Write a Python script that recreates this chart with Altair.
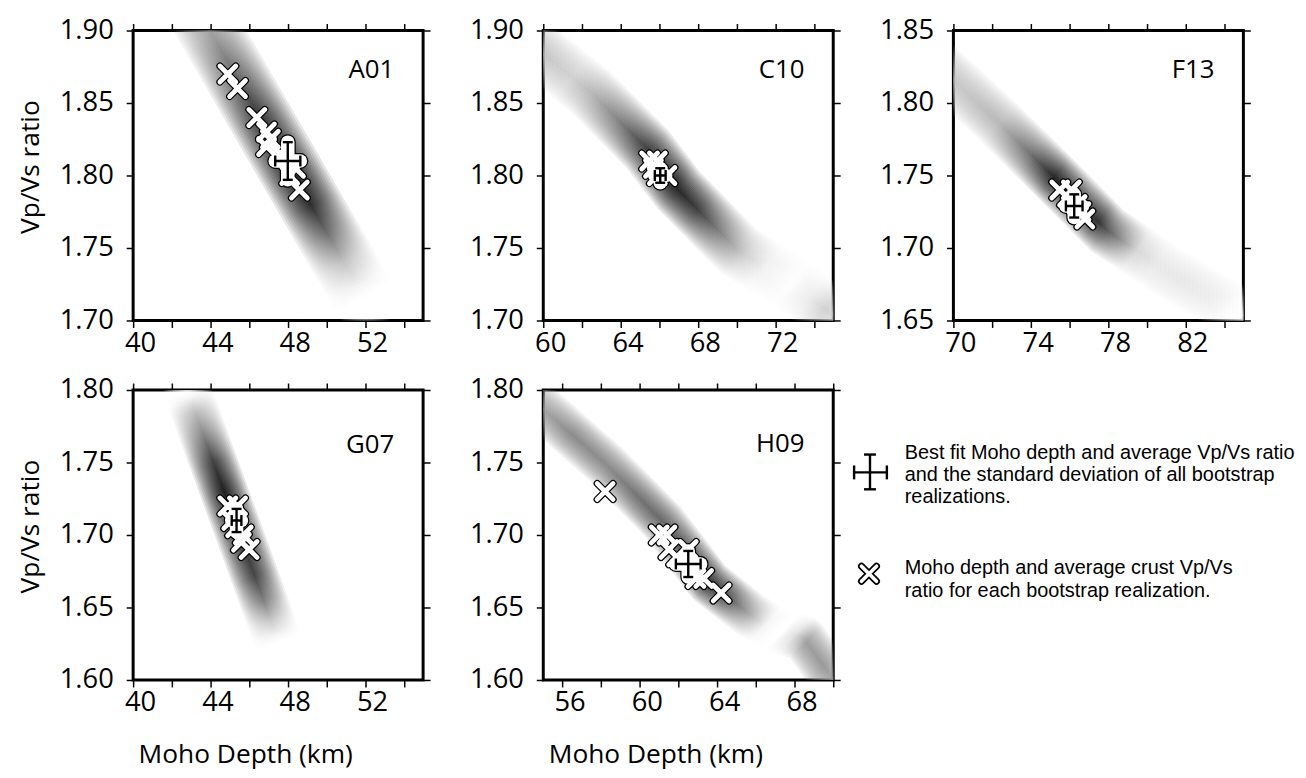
import altair as alt
import numpy as np
import pandas as pd

# ------------------------------------------------------------------
# DATA
# ------------------------------------------------------------------
# A01
A01_x_domain = [40, 55]
A01_y_domain = [1.70, 1.90]
A01_x_ticks = [40, 42, 44, 46, 48, 50, 52, 54]
A01_x_labels = [40, 44, 48, 52]
A01_y_ticks = [1.70, 1.75, 1.80, 1.85, 1.90]
A01_ridge_depth = [43.1, 52.0]
A01_ridge_vpvs = [1.92, 1.715]
A01_shade_depth = [43.1, 44.0, 45.3, 46.6, 48.3, 49.2, 50.0, 50.9, 51.6, 52.0]
A01_shade_level = [0.30, 0.36, 0.58, 0.78, 0.88, 0.82, 0.58, 0.24, 0.06, 0.0]
A01_boot_depth = [44.9, 45.4, 46.4, 46.9, 47.1, 46.9, 47.6, 48.1, 48.4, 48.6]
A01_boot_vpvs = [1.87, 1.86, 1.84, 1.83, 1.825, 1.82, 1.815, 1.80, 1.805, 1.79]
A01_best = [48.0, 1.81]
A01_err = [0.65, 0.013]

# C10
C10_x_domain = [60, 75]
C10_y_domain = [1.70, 1.90]
C10_x_ticks = [60, 62, 64, 66, 68, 70, 72, 74]
C10_x_labels = [60, 64, 68, 72]
C10_y_ticks = [1.70, 1.75, 1.80, 1.85, 1.90]
C10_ridge_depth = [58.5, 62.5, 65.4, 67.0, 70.1, 72.5, 74.6, 76.0]
C10_ridge_vpvs = [1.90, 1.857, 1.818, 1.790, 1.748, 1.728, 1.708, 1.695]
C10_shade_depth = [58.5, 60.0, 61.5, 62.5, 64.0, 65.4, 66.7, 68.0, 69.3, 70.5, 71.5, 72.8, 73.8, 74.6, 76.0]
C10_shade_level = [0.22, 0.22, 0.18, 0.28, 0.50, 0.75, 0.88, 0.75, 0.45, 0.18, 0.06, 0.02, 0.08, 0.18, 0.10]
C10_boot_depth = [65.5, 65.9, 65.9, 66.4, 65.7]
C10_boot_vpvs = [1.81, 1.81, 1.80, 1.80, 1.805]
C10_best = [66.05, 1.80]
C10_err = [0.28, 0.005]

# F13
F13_x_domain = [70, 85]
F13_y_domain = [1.65, 1.85]
F13_x_ticks = [70, 72, 74, 76, 78, 80, 82, 84]
F13_x_labels = [70, 74, 78, 82]
F13_y_ticks = [1.65, 1.70, 1.75, 1.80, 1.85]
F13_ridge_depth = [69.0, 72.4, 75.2, 77.96, 81.04, 83.1, 85.5]
F13_ridge_vpvs = [1.828, 1.786, 1.749, 1.712, 1.684, 1.668, 1.65]
F13_shade_depth = [69.0, 70.5, 72.4, 74.0, 75.2, 76.5, 77.5, 78.5, 79.5, 80.5, 82.0, 83.5, 84.5, 85.5]
F13_shade_level = [0.22, 0.22, 0.28, 0.55, 0.85, 0.75, 0.80, 0.48, 0.16, 0.09, 0.09, 0.07, 0.02, 0.0]
F13_boot_depth = [75.5, 76.1, 75.9, 76.4, 76.6, 76.8]
F13_boot_vpvs = [1.74, 1.74, 1.735, 1.73, 1.725, 1.72]
F13_best = [76.25, 1.729]
F13_err = [0.43, 0.008]

# G07
G07_x_domain = [40, 55]
G07_y_domain = [1.60, 1.80]
G07_x_ticks = [40, 42, 44, 46, 48, 50, 52, 54]
G07_x_labels = [40, 44, 48, 52]
G07_y_ticks = [1.60, 1.65, 1.70, 1.75, 1.80]
G07_ridge_depth = [42.8, 47.56]
G07_ridge_vpvs = [1.80, 1.625]
G07_shade_depth = [42.8, 42.95, 43.2, 43.6, 44.15, 44.7, 45.5, 46.3, 46.75, 47.15, 47.4, 47.56]
G07_shade_level = [0.0, 0.05, 0.25, 0.45, 0.75, 0.90, 0.80, 0.72, 0.50, 0.20, 0.05, 0.0]
G07_boot_depth = [44.9, 45.4, 45.1, 45.3, 45.7, 45.6, 46.0]
G07_boot_vpvs = [1.72, 1.72, 1.71, 1.705, 1.70, 1.695, 1.69]
G07_best = [45.35, 1.71]
G07_err = [0.25, 0.008]

# H09
H09_x_domain = [55, 70]
H09_y_domain = [1.60, 1.80]
H09_x_ticks = [56, 58, 60, 62, 64, 66, 68, 70]
H09_x_labels = [56, 60, 64, 68]
H09_y_ticks = [1.60, 1.65, 1.70, 1.75, 1.80]
H09_ridge_depth = [54.3, 58.3, 61.2, 63.6, 65.7, 66.8, 68.45, 70.3]
H09_ridge_vpvs = [1.795, 1.748, 1.709, 1.667, 1.645, 1.636, 1.629, 1.595]
H09_shade_depth = [54.3, 55.0, 56.5, 58.3, 60.0, 61.5, 62.5, 63.6, 64.6, 65.7, 66.5, 67.3, 68.0, 68.6, 69.5, 70.3]
H09_shade_level = [0.30, 0.35, 0.45, 0.45, 0.55, 0.60, 0.70, 0.80, 0.65, 0.32, 0.05, 0.0, 0.12, 0.38, 0.40, 0.30]
H09_boot_depth = [58.2, 61.0, 61.4, 61.5, 61.9, 62.5, 62.8, 62.9, 63.3, 64.2]
H09_boot_vpvs = [1.73, 1.70, 1.70, 1.69, 1.685, 1.69, 1.675, 1.67, 1.67, 1.66]
H09_best = [62.5, 1.68]
H09_err = [0.64, 0.009]

legend_best_lines = ["Best fit Moho depth and average Vp/Vs ratio",
                     "and the standard deviation of all bootstrap",
                     "realizations."]
legend_boot_lines = ["Moho depth and average crust Vp/Vs",
                     "ratio for each bootstrap realization."]

# ------------------------------------------------------------------
# STYLE
# ------------------------------------------------------------------
PW, PH = 292, 292
N_LAYERS = 20
ALPHA = 0.1
FRACS = [((k + 1) / N_LAYERS) ** 1.5 for k in range(N_LAYERS)]
SAT = 1 - (1 - ALPHA) ** N_LAYERS
XPATH = "M-1,-1L1,1M-1,1L1,-1"
TICK_FONT = "Open Sans"
LEG_FONT = "Liberation Sans"


def band_gradient(xdom, ydom, rd, rv, sd, sl):
    """Gradient along the ridge, with iso-lines perpendicular to it in pixel space."""
    def to_px(d, v):
        return ((d - xdom[0]) / (xdom[1] - xdom[0]) * PW,
                (ydom[1] - v) / (ydom[1] - ydom[0]) * PH)
    pts = [to_px(d, v) for d, v in zip(rd, rv)]
    xs = [p[0] for p in pts]
    ys = [p[1] for p in pts]
    bx0, bx1, by0, by1 = min(xs), max(xs), min(ys), max(ys)
    wb, hb = bx1 - bx0, by1 - by0
    k = (wb ** 2 + hb ** 2) / (wb ** 4 + hb ** 4)
    ga, gb = k * wb ** 2, k * hb ** 2
    stops = []
    for d, lvl in zip(sd, sl):
        v = float(np.interp(d, rd, rv))
        px, py = to_px(d, v)
        u, w = (px - bx0) / wb, (py - by0) / hb
        off = (u * ga + w * gb) / (ga ** 2 + gb ** 2)
        g = int(round(255 * (1 - min(1.0, lvl / SAT))))
        stops.append({"offset": float(min(1, max(0, off))), "color": f"rgb({g},{g},{g})"})
    stops.sort(key=lambda s: s["offset"])
    return {"gradient": "linear", "x1": 0, "y1": 0, "x2": float(ga), "y2": float(gb),
            "stops": stops}


def panel(name, xdom, ydom, xticks, xlabels, yticks, rd, rv, sd, sl, bw,
          bd, bv, best, err, ytitle, xtitle, label_y, legend=False):
    xs = alt.Scale(domain=xdom, nice=False, zero=False)
    ys = alt.Scale(domain=ydom, nice=False, zero=False)

    cond = " || ".join(f"datum.value == {v}" for v in xlabels)
    bottom_axis = alt.Axis(
        orient="bottom", values=xticks, format="d",
        labelExpr=f"({cond}) ? datum.label : ''",
        labelFontSize=27.5, labelFlush=False, labelOffset=7, labelPadding=2,
        titleFontSize=26.5, titleAnchor="start", titleAlign="left",
        titleX=5, titleY=83, titleBaseline="alphabetic")
    left_axis = alt.Axis(
        orient="left", values=yticks, format=".2f", labelFontSize=27.5,
        labelPadding=13, titleFontSize=26.5, titleX=-95, titleY=137,
        titleBaseline="alphabetic", titleAngle=270)
    top_axis = alt.Axis(orient="top", values=xticks, labels=False, title=None)
    right_axis = alt.Axis(orient="right", values=yticks, labels=False, title=None)

    # heat band (H-k stacking energy) as layered soft strokes
    rows = []
    for k, f in enumerate(FRACS):
        for i, (d, v) in enumerate(zip(rd, rv)):
            rows.append({"layer": k, "ord": i, "depth": d, "vpvs": v, "w": bw * f})
    band_df = pd.DataFrame(rows)
    grad = band_gradient(xdom, ydom, rd, rv, sd, sl)
    band = alt.Chart(band_df).mark_line(
        stroke=grad, strokeOpacity=ALPHA, strokeCap="round", strokeJoin="round", clip=True
    ).encode(
        x=alt.X("depth:Q", scale=xs, axis=bottom_axis, title=xtitle),
        y=alt.Y("vpvs:Q", scale=ys, axis=left_axis, title=ytitle),
        detail="layer:N",
        order="ord:Q",
        strokeWidth=alt.StrokeWidth("w:Q", scale=None, legend=None),
    )

    boot_df = pd.DataFrame({"depth": bd, "vpvs": bv})
    boot_out = alt.Chart(boot_df).mark_point(
        shape=XPATH, size=256, filled=False, stroke="black", strokeWidth=7.2,
        strokeCap="round", opacity=1, clip=True
    ).encode(
        x=alt.X("depth:Q", scale=xs, axis=top_axis),
        y=alt.Y("vpvs:Q", scale=ys, axis=right_axis),
    )
    boot_in = alt.Chart(boot_df).mark_point(
        shape=XPATH, size=256, filled=False, stroke="white", strokeWidth=4.8,
        strokeCap="round", opacity=1, clip=True
    ).encode(
        x=alt.X("depth:Q", scale=xs, axis=None),
        y=alt.Y("vpvs:Q", scale=ys, axis=None),
    )

    eb_df = pd.DataFrame({
        "x1": [best[0] - err[0], best[0]],
        "x2": [best[0] + err[0], best[0]],
        "y1": [best[1], best[1] - err[1]],
        "y2": [best[1], best[1] + err[1]],
    })

    def eb_rule(color, width, cap):
        return alt.Chart(eb_df).mark_rule(
            stroke=color, strokeWidth=width, strokeCap=cap, clip=True
        ).encode(
            x=alt.X("x1:Q", scale=xs, axis=None), x2="x2:Q",
            y=alt.Y("y1:Q", scale=ys, axis=None), y2="y2:Q",
        )

    halo_out = eb_rule("black", 16, "round")
    halo_in = eb_rule("white", 13.6, "round")
    bar = eb_rule("black", 2.4, "butt")

    capx_df = pd.DataFrame({"d": [best[0] - err[0], best[0] + err[0]], "v": [best[1]] * 2})
    capy_df = pd.DataFrame({"d": [best[0]] * 2, "v": [best[1] - err[1], best[1] + err[1]]})
    capx = alt.Chart(capx_df).mark_tick(orient="vertical", size=11, thickness=2.4,
                                        color="black", opacity=1).encode(
        x=alt.X("d:Q", scale=xs, axis=None), y=alt.Y("v:Q", scale=ys, axis=None))
    capy = alt.Chart(capy_df).mark_tick(orient="horizontal", size=10, thickness=2.4,
                                        color="black", opacity=1).encode(
        x=alt.X("d:Q", scale=xs, axis=None), y=alt.Y("v:Q", scale=ys, axis=None))

    label = alt.Chart(pd.DataFrame({"t": [name]})).mark_text(
        align="right", baseline="alphabetic", font=TICK_FONT, fontSize=26, color="black"
    ).encode(x=alt.value(263), y=alt.value(label_y), text="t:N")

    layers = [band, boot_out, halo_out, boot_in, halo_in, bar, capx, capy, label]

    if legend:
        one = pd.DataFrame({"a": [0]})

        def lrule(x1, x2, y1, y2, w=2.4):
            return alt.Chart(one).mark_rule(stroke="black", strokeWidth=w).encode(
                x=alt.value(x1), x2=alt.value(x2), y=alt.value(y1), y2=alt.value(y2))

        layers += [
            lrule(313, 346, 83, 83),
            lrule(329, 329, 65, 100),
            lrule(313, 313, 76, 90),
            lrule(346, 346, 76, 90),
            lrule(323, 335, 65, 65),
            lrule(323, 335, 100, 100),
        ]
        layers.append(alt.Chart(one).mark_point(
            shape=XPATH, size=230, filled=False, stroke="black", strokeWidth=7,
            strokeCap="round", opacity=1).encode(x=alt.value(328), y=alt.value(185)))
        layers.append(alt.Chart(one).mark_point(
            shape=XPATH, size=230, filled=False, stroke="white", strokeWidth=3.6,
            strokeCap="round", opacity=1).encode(x=alt.value(328), y=alt.value(185)))
        for i, line in enumerate(legend_best_lines):
            layers.append(alt.Chart(one).mark_text(
                text=line, align="left", baseline="alphabetic", font=LEG_FONT,
                fontSize=20, color="black").encode(x=alt.value(364), y=alt.value(69 + 22.5 * i)))
        for i, line in enumerate(legend_boot_lines):
            layers.append(alt.Chart(one).mark_text(
                text=line, align="left", baseline="alphabetic", font=LEG_FONT,
                fontSize=20, color="black").encode(x=alt.value(364), y=alt.value(185 + 23 * i)))

    return alt.layer(*layers).resolve_axis(x="independent", y="independent").properties(
        width=PW, height=PH)


pA = panel("A01", A01_x_domain, A01_y_domain, A01_x_ticks, A01_x_labels, A01_y_ticks,
           A01_ridge_depth, A01_ridge_vpvs, A01_shade_depth, A01_shade_level, 64,
           A01_boot_depth, A01_boot_vpvs, A01_best, A01_err,
           "Vp/Vs ratio", None, 48)
pC = panel("C10", C10_x_domain, C10_y_domain, C10_x_ticks, C10_x_labels, C10_y_ticks,
           C10_ridge_depth, C10_ridge_vpvs, C10_shade_depth, C10_shade_level, 56,
           C10_boot_depth, C10_boot_vpvs, C10_best, C10_err,
           None, None, 48)
pF = panel("F13", F13_x_domain, F13_y_domain, F13_x_ticks, F13_x_labels, F13_y_ticks,
           F13_ridge_depth, F13_ridge_vpvs, F13_shade_depth, F13_shade_level, 52,
           F13_boot_depth, F13_boot_vpvs, F13_best, F13_err,
           None, None, 48)
pG = panel("G07", G07_x_domain, G07_y_domain, G07_x_ticks, G07_x_labels, G07_y_ticks,
           G07_ridge_depth, G07_ridge_vpvs, G07_shade_depth, G07_shade_level, 48,
           G07_boot_depth, G07_boot_vpvs, G07_best, G07_err,
           "Vp/Vs ratio", "Moho Depth (km)", 63)
pH = panel("H09", H09_x_domain, H09_y_domain, H09_x_ticks, H09_x_labels, H09_y_ticks,
           H09_ridge_depth, H09_ridge_vpvs, H09_shade_depth, H09_shade_level, 46,
           H09_boot_depth, H09_boot_vpvs, H09_best, H09_err,
           None, "Moho Depth (km)", 62, legend=True)

chart = alt.concat(pA, pC, pF, pG, pH, columns=3,
                   spacing={"row": 70, "column": 121}, bounds="flush").configure_view(
    stroke="black", strokeWidth=3
).configure_axis(
    tickColor="black", tickWidth=1.5, tickSize=7, domain=False, grid=False,
    labelColor="black", titleColor="black", labelFont=TICK_FONT, titleFont=TICK_FONT,
    titleFontWeight="normal"
).properties(background="white",
             padding={"left": 8, "top": 4, "right": 2, "bottom": 0})

chart.save("out.html", embed_options={"renderer": "svg", "actions": False})
